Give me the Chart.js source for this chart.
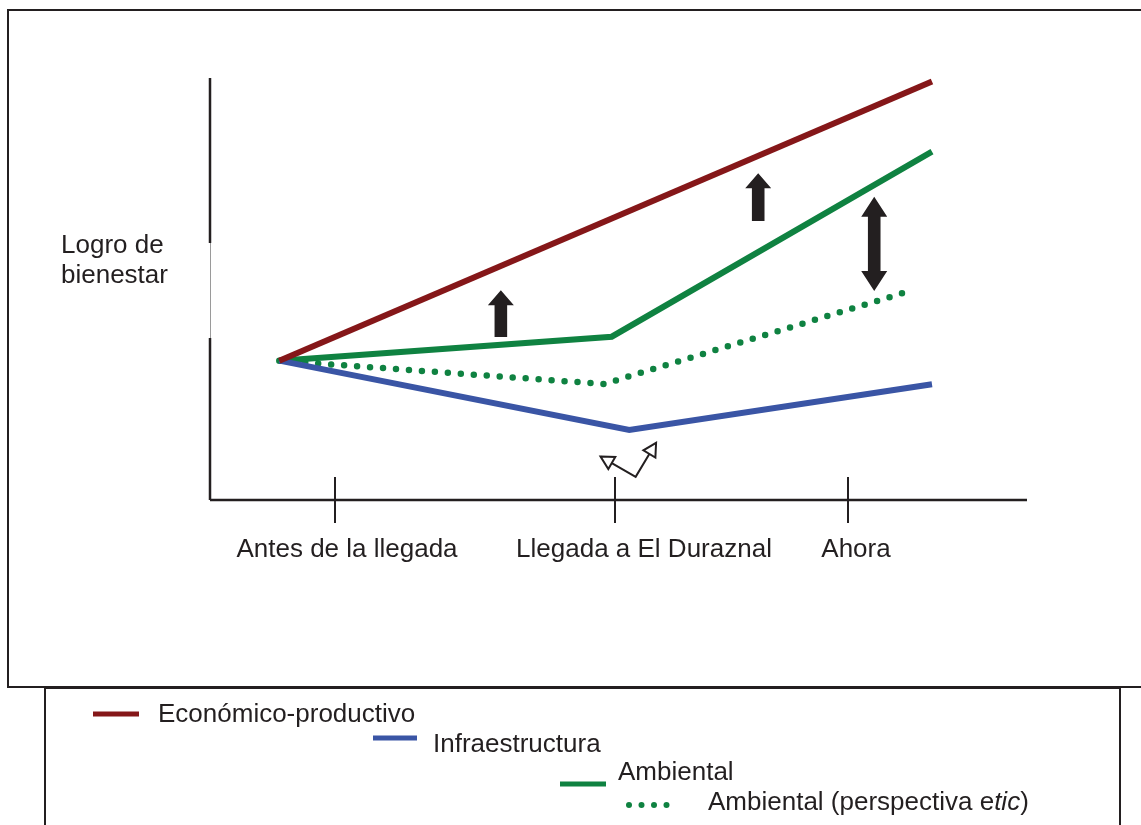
<!DOCTYPE html>
<html>
<head>
<meta charset="utf-8">
<script src="https://cdn.jsdelivr.net/npm/chart.js@4"></script>
<style>
  body { margin: 0; background: #fff; }
  #wrap { position: relative; width: 1141px; height: 825px; overflow: hidden; }
  canvas { position: absolute; left: 0; top: 0; }
</style>
</head>
<body>
<div id="wrap">
  <canvas id="chart" width="1141" height="825"></canvas>
</div>
<script>
// x runs 0..100 across the plot, y runs 0..100 up the plot
const tickValues = [15.3, 49.6, 78.1];
const tickLabels = ["Antes de la llegada", "Llegada a El Duraznal", "Ahora"];
const yTitle = ["Logro de", "bienestar"];

const economicoX = [8.48, 88.37];
const economicoY = [32.4, 97.3];
const infraX = [8.48, 51.32, 88.37];
const infraY = [32.4, 16.28, 26.9];
const ambientalX = [8.48, 49.17, 88.37];
const ambientalY = [32.4, 37.98, 81.0];
const eticX = [8.48, 48.23, 84.95];
const eticY = [32.4, 26.98, 48.2];

const seriesNames = ["Económico-productivo", "Infraestructura", "Ambiental", "Ambiental (perspectiva etic)"];

// black block arrows: x, y of base, y of tip (double = heads at both ends)
const arrowX = [35.6, 67.1, 81.3];
const arrowFrom = [37.9, 64.9, 48.6];
const arrowTo = [48.8, 76.0, 70.5];
const arrowDouble = [false, false, true];

// small outline bent arrow: tip, corner, tip
const bentX = [47.8, 52.1, 54.6];
const bentY = [10.1, 5.4, 13.3];

const RED = "#851719";
const BLUE = "#3a55a5";
const GREEN = "#0f8241";
const INK = "#231f20";
const FONT = '"Liberation Sans", Arial, sans-serif';
const SIZE = "26px ";

function pts(xs, ys) {
  return xs.map((x, i) => ({ x: x, y: ys[i] }));
}

const decorations = {
  id: "decorations",
  afterDatasetsDraw(chart) {
    const c = chart.ctx;
    const xs = chart.scales.x;
    const ys = chart.scales.y;
    const a = chart.chartArea;
    c.save();

    // outer frame
    c.strokeStyle = INK;
    c.lineWidth = 2;
    c.strokeRect(8, 10, 1150, 677);

    // y axis with its light gap
    c.lineWidth = 2.5;
    c.beginPath();
    c.moveTo(a.left, 78); c.lineTo(a.left, 243);
    c.moveTo(a.left, 338); c.lineTo(a.left, a.bottom);
    c.stroke();
    c.strokeStyle = "#9a9a9a";
    c.lineWidth = 1;
    c.beginPath();
    c.moveTo(a.left + 0.5, 243); c.lineTo(a.left + 0.5, 338);
    c.stroke();

    // x axis
    c.strokeStyle = INK;
    c.lineWidth = 2.5;
    c.beginPath();
    c.moveTo(a.left, a.bottom); c.lineTo(a.right, a.bottom);
    c.stroke();

    // ticks + labels
    const labelShift = [12, 29, 8];
    c.lineWidth = 2;
    c.fillStyle = INK;
    c.font = SIZE + FONT;
    c.textAlign = "center";
    c.textBaseline = "middle";
    tickValues.forEach((v, i) => {
      const px = Math.round(xs.getPixelForValue(v));
      c.beginPath();
      c.moveTo(px, a.bottom - 23); c.lineTo(px, a.bottom + 23);
      c.stroke();
      c.fillText(tickLabels[i], px + labelShift[i], 550);
    });

    // y title
    c.textAlign = "left";
    c.fillText(yTitle[0], 61, 246);
    c.fillText(yTitle[1], 61, 276);

    // block arrows
    c.fillStyle = INK;
    arrowX.forEach((v, i) => {
      const cx = xs.getPixelForValue(v);
      const y0 = ys.getPixelForValue(arrowFrom[i]);
      const y1 = ys.getPixelForValue(arrowTo[i]);
      const sw = 6.3, hw = 13, hh = arrowDouble[i] ? 20 : 15;
      c.beginPath();
      c.moveTo(cx, y1);
      c.lineTo(cx + hw, y1 + hh);
      c.lineTo(cx + sw, y1 + hh);
      if (arrowDouble[i]) {
        c.lineTo(cx + sw, y0 - hh);
        c.lineTo(cx + hw, y0 - hh);
        c.lineTo(cx, y0);
        c.lineTo(cx - hw, y0 - hh);
        c.lineTo(cx - sw, y0 - hh);
      } else {
        c.lineTo(cx + sw, y0);
        c.lineTo(cx - sw, y0);
      }
      c.lineTo(cx - sw, y1 + hh);
      c.lineTo(cx - hw, y1 + hh);
      c.closePath();
      c.fill();
    });

    // bent outline arrow
    const bp = bentX.map((v, i) => [xs.getPixelForValue(v), ys.getPixelForValue(bentY[i])]);
    c.strokeStyle = INK;
    c.lineWidth = 2;
    c.lineJoin = "miter";
    function head(tip, from) {
      const dx = tip[0] - from[0], dy = tip[1] - from[1];
      const len = Math.hypot(dx, dy);
      const ux = dx / len, uy = dy / len;
      const L = 13, W = 7;
      const bx = tip[0] - ux * L, by = tip[1] - uy * L;
      c.beginPath();
      c.moveTo(tip[0], tip[1]);
      c.lineTo(bx - uy * W, by + ux * W);
      c.lineTo(bx + uy * W, by - ux * W);
      c.closePath();
      c.fillStyle = "#fff";
      c.fill();
      c.stroke();
    }
    c.beginPath();
    c.moveTo(bp[0][0], bp[0][1]);
    c.lineTo(bp[1][0], bp[1][1]);
    c.lineTo(bp[2][0], bp[2][1]);
    c.stroke();
    head(bp[0], bp[1]);
    head(bp[2], bp[1]);

    // legend box
    c.strokeStyle = INK;
    c.lineWidth = 2;
    c.strokeRect(45, 688, 1075, 160);

    const legend = [
      { color: RED, x0: 93, x1: 139, y: 714, tx: 158, ty: 715, dots: false },
      { color: BLUE, x0: 373, x1: 417, y: 738, tx: 433, ty: 745, dots: false },
      { color: GREEN, x0: 560, x1: 606, y: 784, tx: 618, ty: 773, dots: false },
      { color: GREEN, x0: 629, x1: 667, y: 805, tx: 708, ty: 803, dots: true }
    ];
    c.fillStyle = INK;
    c.textAlign = "left";
    c.font = SIZE + FONT;
    legend.forEach((l, i) => {
      c.strokeStyle = l.color;
      c.lineWidth = 5;
      if (l.dots) {
        c.fillStyle = l.color;
        for (let k = 0; k < 4; k++) {
          c.beginPath();
          c.arc(l.x0 + k * 12.5, l.y, 3, 0, Math.PI * 2);
          c.fill();
        }
        c.fillStyle = INK;
        const t1 = "Ambiental (perspectiva e";
        c.font = SIZE + FONT;
        c.fillText(t1, l.tx, l.ty);
        let w = c.measureText(t1).width;
        c.font = "italic " + SIZE + FONT;
        c.fillText("tic", l.tx + w, l.ty);
        w += c.measureText("tic").width;
        c.font = SIZE + FONT;
        c.fillText(")", l.tx + w, l.ty);
      } else {
        c.lineCap = "butt";
        c.beginPath();
        c.moveTo(l.x0, l.y); c.lineTo(l.x1, l.y);
        c.stroke();
        c.fillText(seriesNames[i], l.tx, l.ty);
      }
    });

    c.restore();
  }
};

new Chart(document.getElementById("chart"), {
  type: "line",
  data: {
    datasets: [
      { label: seriesNames[0], data: pts(economicoX, economicoY), borderColor: RED, borderWidth: 6 },
      { label: seriesNames[1], data: pts(infraX, infraY), borderColor: BLUE, borderWidth: 6 },
      { label: seriesNames[2], data: pts(ambientalX, ambientalY), borderColor: GREEN, borderWidth: 6 },
      { label: seriesNames[3], data: pts(eticX, eticY), borderColor: GREEN, borderWidth: 6.5,
        borderDash: [0, 13], borderCapStyle: "round" }
    ]
  },
  options: {
    responsive: false,
    animation: false,
    events: [],
    layout: { padding: { left: 210, right: 114, top: 70, bottom: 325 } },
    elements: { point: { radius: 0 }, line: { tension: 0, borderJoinStyle: "miter" } },
    plugins: { legend: { display: false }, tooltip: { enabled: false } },
    scales: {
      x: { type: "linear", min: 0, max: 100, display: false },
      y: { type: "linear", min: 0, max: 100, display: false }
    }
  },
  plugins: [decorations]
});
</script>
</body>
</html>
